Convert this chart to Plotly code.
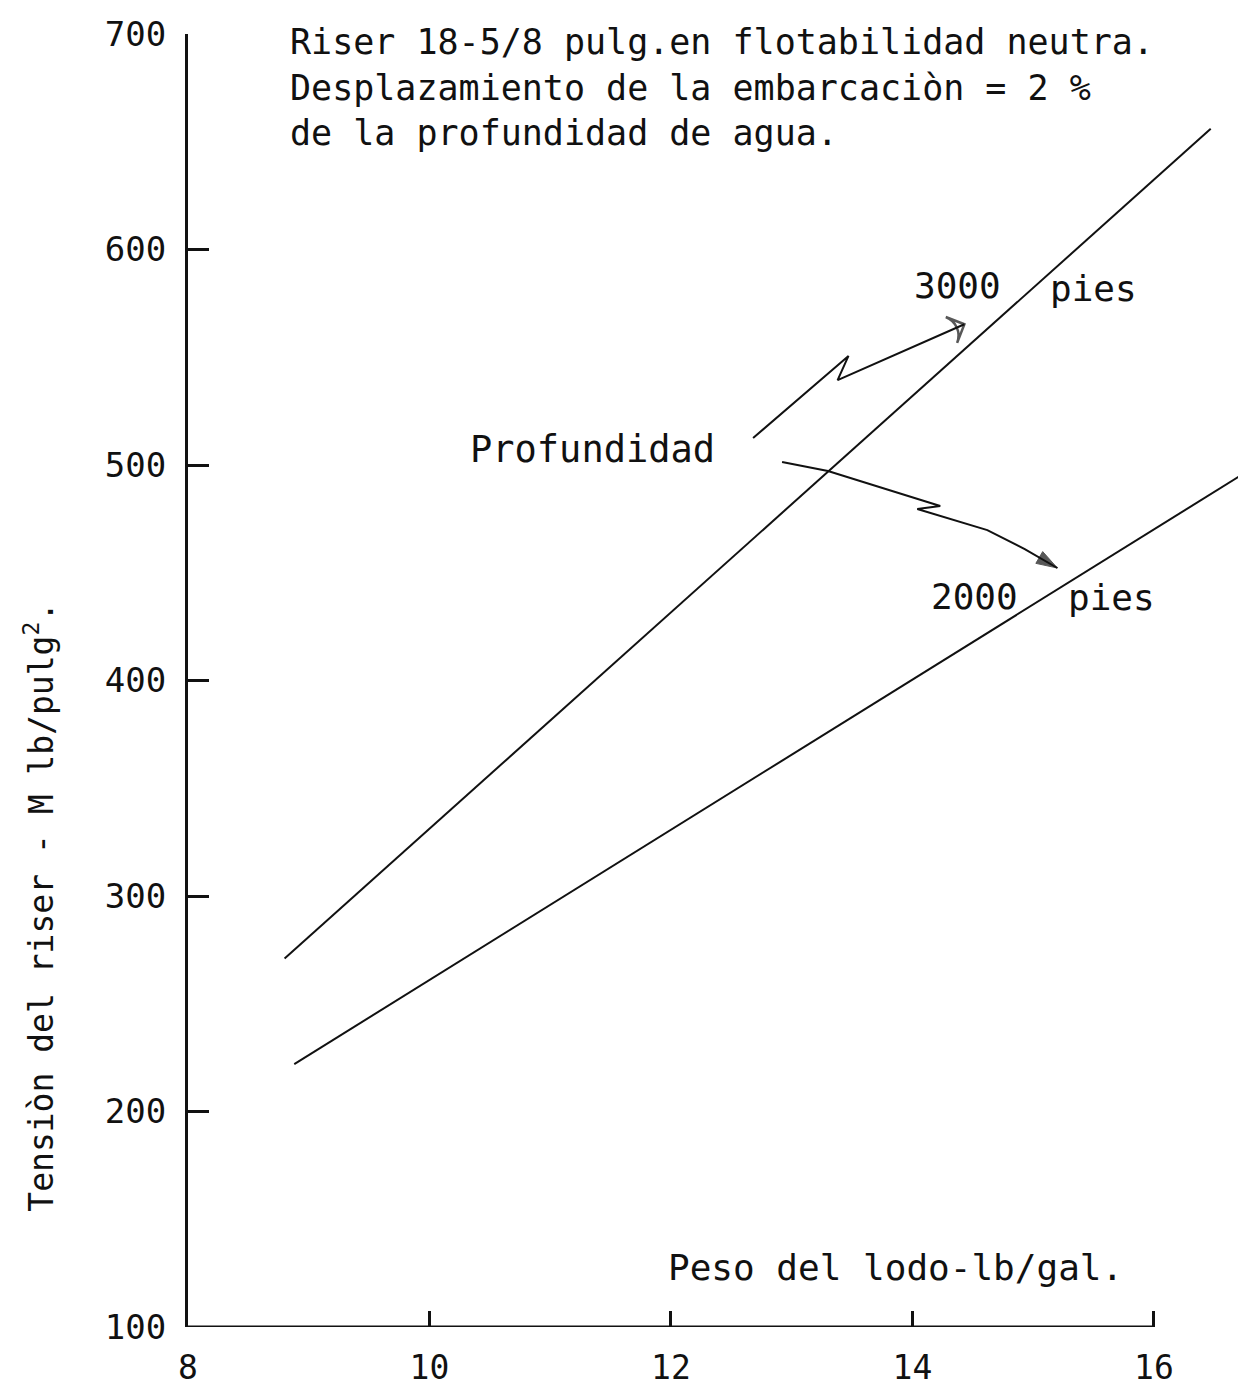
import plotly.graph_objects as go

# Mud weight (lb/gal) vs riser tension (M lb/pulg^2) for two water depths
mud_weight_3000 = [8.8, 16.47]
tension_3000 = [271, 656]
mud_weight_2000 = [8.88, 16.8]
tension_2000 = [222, 498]

x_ticks = [8, 10, 12, 14, 16]
x_tick_text = ["8", "10", "12", "14", "16"]
y_ticks = [100, 200, 300, 400, 500, 600, 700]
y_tick_text = ["100", "200", "300", "400", "500", "600", "700"]

FONT = "DejaVu Sans Mono"
INK = "#111111"

fig = go.Figure()

fig.add_trace(go.Scatter(x=mud_weight_3000, y=tension_3000, mode="lines",
                         line=dict(color=INK, width=2), showlegend=False,
                         hoverinfo="skip"))
fig.add_trace(go.Scatter(x=mud_weight_2000, y=tension_2000, mode="lines",
                         line=dict(color=INK, width=2), showlegend=False,
                         hoverinfo="skip"))

# zig-zag pointers from "Profundidad" to each curve label, arrow at the end
upper_path_x = [12.68, 13.47, 13.38, 14.43]
upper_path_y = [512.5, 550.6, 539.4, 565.3]
lower_path_x = [12.92, 13.30, 14.23, 14.04, 14.62, 14.93, 15.20]
lower_path_y = [501.4, 497.2, 481.0, 479.6, 469.8, 461.0, 452.2]
fig.add_trace(go.Scatter(
    x=upper_path_x, y=upper_path_y, mode="lines+markers",
    line=dict(color=INK, width=2),
    marker=dict(symbol="arrow-wide-open", angleref="previous",
                size=[0, 0, 0, 20], color=INK, line=dict(color=INK, width=2.5)),
    showlegend=False, hoverinfo="skip"))
fig.add_trace(go.Scatter(
    x=lower_path_x, y=lower_path_y, mode="lines+markers",
    line=dict(color=INK, width=2),
    marker=dict(symbol="arrow", angleref="previous",
                size=[0, 0, 0, 0, 0, 0, 22], color=INK,
                line=dict(color=INK, width=1)),
    showlegend=False, hoverinfo="skip"))


def label(text, x, y, size=34, anchor="left"):
    return dict(x=x, y=y, xref="x", yref="y", text=text, showarrow=False,
                xanchor=anchor, yanchor="middle",
                font=dict(family=FONT, size=size, color=INK))


annotations = [
    dict(x=8.83, y=675.0, xref="x", yref="y",
         text=("Riser 18-5/8 pulg.en flotabilidad neutra.<br>"
               "Desplazamiento de la embarcaciòn = 2 %<br>"
               "de la profundidad de agua."),
         showarrow=False, xanchor="left", yanchor="middle", align="left",
         font=dict(family=FONT, size=35, color=INK)),
    label("Profundidad", 10.32, 507, 37),
    label("3000", 14.0, 583.5, 36),
    label("pies", 15.12, 582, 36),
    label("2000", 14.14, 439.2, 36),
    label("pies", 15.27, 438.3, 36),
    label("Peso del lodo-lb/gal.", 11.96, 127.4, 36),
    dict(x=-0.141, y=295, xref="paper", yref="y",
         text="Tensiòn del riser - M lb/pulg<sup>2</sup>.", showarrow=False,
         textangle=-90, xanchor="center", yanchor="middle",
         font=dict(family=FONT, size=33, color=INK)),
]

fig.update_layout(
    width=1238, height=1389,
    margin=dict(l=188, r=0, t=34, b=62),
    paper_bgcolor="white", plot_bgcolor="white",
    showlegend=False,
    annotations=annotations,
    shapes=[dict(type="line", xref="x", yref="y", x0=8, x1=16, y0=100, y1=100,
                 line=dict(color=INK, width=3))],
)

fig.update_xaxes(range=[8, 16.696], tickvals=x_ticks, ticktext=x_tick_text,
                 ticks="inside", ticklen=16, tickwidth=3, tickcolor=INK,
                 showline=False, showgrid=False, zeroline=False,
                 ticklabelstandoff=18,
                 tickfont=dict(family=FONT, size=33, color=INK))
fig.update_yaxes(range=[100, 700], tickvals=y_ticks, ticktext=y_tick_text,
                 ticks="inside", ticklen=21, tickwidth=3, tickcolor=INK,
                 showline=True, linewidth=3, linecolor=INK,
                 showgrid=False, zeroline=False, ticklabelstandoff=12,
                 tickfont=dict(family=FONT, size=34, color=INK))

fig.write_html("out.html")
